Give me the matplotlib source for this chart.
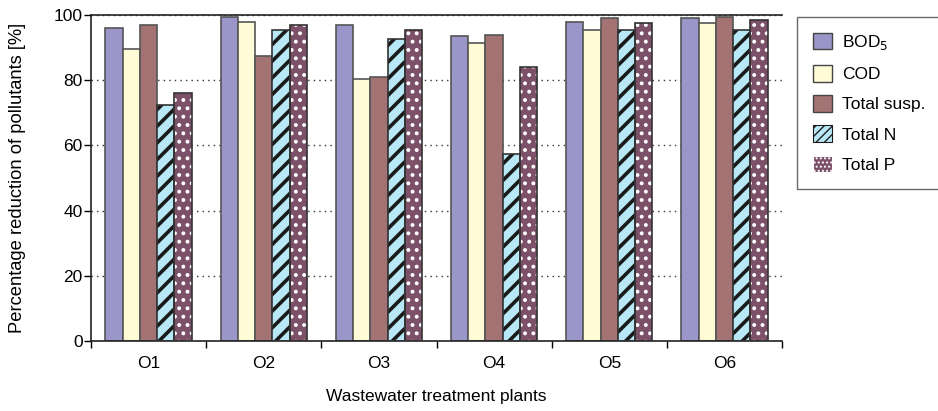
import numpy as np
import matplotlib
matplotlib.use("Agg")
import matplotlib.pyplot as plt
from matplotlib.patches import Patch

plants = ["O1", "O2", "O3", "O4", "O5", "O6"]
bod5 = [96, 99.5, 97, 93.5, 98, 99]
cod = [89.5, 98, 80.5, 91.5, 95.5, 97.5]
total_susp = [97, 87.5, 81, 94, 99, 99.5]
total_n = [72.5, 95.5, 92.5, 57.5, 95.5, 95.5]
total_p = [76, 97, 95.5, 84, 97.5, 98.5]

series = [
    # label, values, face, hatch, hatch colour, hatch width
    (r"BOD$_5$", bod5, "#9b96c9", None, None, 0),
    ("COD", cod, "#fffbd6", None, None, 0),
    ("Total susp.", total_susp, "#a37272", None, None, 0),
    ("Total N", total_n, "#b8e8f5", "//", "#1a1a1a", 2.6),
    ("Total P", total_p, "#7b5068", "..", "white", 1.6),
]

plt.rcParams["font.family"] = ["Liberation Sans", "DejaVu Sans"]

fig = plt.figure(figsize=(9.38, 4.11), dpi=100)
ax = fig.add_axes([91 / 938, 1 - 341 / 411, (782 - 91) / 938, (341 - 15) / 411])

x = np.arange(len(plants))
w = 0.15
handles = []
for i, (label, vals, face, hatch, hcol, hlw) in enumerate(series):
    pos = x + (i - 2) * w
    if hatch:
        plt.rcParams["hatch.linewidth"] = hlw
        ax.bar(pos, vals, w, color=face, hatch=hatch, edgecolor=hcol, linewidth=0, zorder=2)
        ax.bar(pos, vals, w, fill=False, edgecolor="#333333", linewidth=1.2, zorder=3)
        plt.rcParams["hatch.linewidth"] = hlw * 0.6
        handles.append(Patch(facecolor=face, edgecolor=hcol, hatch=hatch * 2,
                             linewidth=0.8, label=label))
    else:
        ax.bar(pos, vals, w, color=face, edgecolor="#555555", linewidth=1.2, zorder=2)
        handles.append(Patch(facecolor=face, edgecolor="#444444", linewidth=1.0, label=label))

ax.set_xlim(-0.5, len(plants) - 0.5)
ax.set_ylim(0, 100)
ax.set_yticks([0, 20, 40, 60, 80, 100])
ax.set_xticks(x)
ax.set_xticklabels(plants)
ax.set_xticks(np.arange(len(plants) + 1) - 0.5, minor=True)
ax.tick_params(axis="x", which="major", length=0, labelsize=12.5, pad=11)
ax.tick_params(axis="x", which="minor", length=5, direction="out", width=1)
ax.tick_params(axis="y", length=5, direction="out", labelsize=12.5, width=1, pad=1)
ax.grid(axis="y", linestyle=(0, (1, 3)), color="#333333", linewidth=1, zorder=0)
ax.set_axisbelow(True)
ax.spines["right"].set_visible(False)
for s in ["left", "bottom", "top"]:
    ax.spines[s].set_color("#222222")
    ax.spines[s].set_linewidth(1.2)

ax.set_xlabel("Wastewater treatment plants", fontsize=12.5, labelpad=13)
ax.set_ylabel("Percentage reduction of pollutants [%]", fontsize=13.2, labelpad=20)

leg = fig.legend(handles=handles, loc="upper left", bbox_to_anchor=(797 / 938, 1 - 17 / 411),
                 fontsize=12.5, frameon=True, fancybox=False, edgecolor="#444444",
                 handlelength=1.1, handleheight=1.1, labelspacing=0.75,
                 borderpad=0.9, handletextpad=0.6, borderaxespad=0)
leg.get_frame().set_linewidth(1.0)

fig.savefig("out.png", dpi=100)
